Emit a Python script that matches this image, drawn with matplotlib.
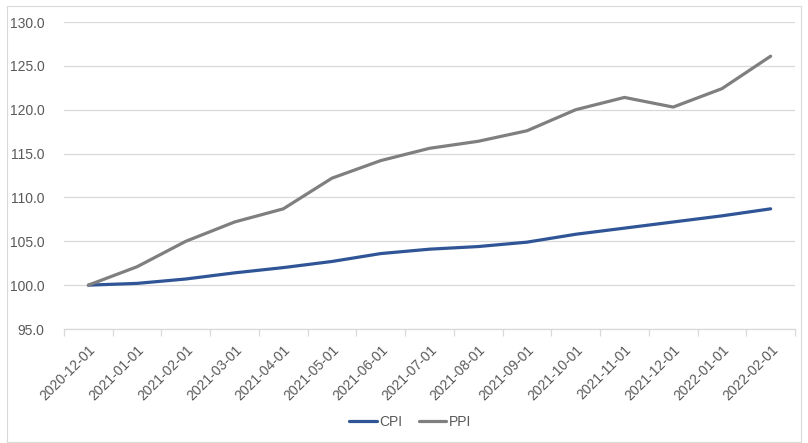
import matplotlib
matplotlib.use("Agg")
import matplotlib.pyplot as plt
from matplotlib.patches import Rectangle

dates = ["2020-12-01", "2021-01-01", "2021-02-01", "2021-03-01", "2021-04-01",
         "2021-05-01", "2021-06-01", "2021-07-01", "2021-08-01", "2021-09-01",
         "2021-10-01", "2021-11-01", "2021-12-01", "2022-01-01", "2022-02-01"]
cpi = [100.0, 100.2, 100.7, 101.4, 102.0, 102.7, 103.6, 104.1, 104.4, 104.9,
       105.8, 106.5, 107.2, 107.9, 108.7]
ppi = [100.0, 102.1, 105.0, 107.2, 108.7, 112.2, 114.2, 115.6, 116.4, 117.6,
       120.0, 121.4, 120.3, 122.4, 126.1]
yticks = [95, 100, 105, 110, 115, 120, 125, 130]

plt.rcParams['font.family'] = ['Liberation Sans', 'DejaVu Sans']
W, H = 808, 443
fig = plt.figure(figsize=(W / 100, H / 100), dpi=100)
fig.patch.set_facecolor("white")
fig.patches.append(Rectangle((7 / W, 1 - 442 / H), 794 / W, 436 / H,
                             transform=fig.transFigure, fill=False,
                             edgecolor="#d9d9d9", linewidth=0.8))

ax = fig.add_axes([64 / W, 1 - 329 / H, 731 / W, 307 / H])
x = list(range(len(dates)))
ax.plot(x, cpi, color="#2f5597", linewidth=2.3, label="CPI", solid_capstyle="round")
ax.plot(x, ppi, color="#7f7f7f", linewidth=2.3, label="PPI", solid_capstyle="round")

ax.set_xlim(-0.5, len(dates) - 0.5)
ax.set_ylim(95, 130)
ax.set_yticks(yticks)
ax.set_yticklabels([f"{v:.1f}" for v in yticks], fontsize=10, color="#595959")
ax.tick_params(axis="y", length=0, pad=14)
ax.grid(axis="y", color="#d9d9d9", linewidth=0.9)
ax.set_axisbelow(True)

ax.set_xticks(x)
ax.set_xticklabels(dates, rotation=45, ha="right", rotation_mode="anchor",
                   fontsize=10, color="#595959")
ax.tick_params(axis="x", which="major", length=0, pad=10)
ax.set_xticks([i - 0.5 for i in range(len(dates) + 1)], minor=True)
ax.tick_params(axis="x", which="minor", length=5, color="#d9d9d9", width=0.9)

for s in ["top", "right", "left"]:
    ax.spines[s].set_visible(False)
ax.spines["bottom"].set_color("#d9d9d9")
ax.spines["bottom"].set_linewidth(0.9)

leg = fig.legend(loc="center", bbox_to_anchor=(410 / W, 1 - 422 / H), ncol=2,
                 frameon=False, fontsize=10, handlelength=2.0, handletextpad=0.15,
                 columnspacing=1.2, labelcolor="#595959")

fig.savefig("out.png", dpi=100, facecolor="white")
